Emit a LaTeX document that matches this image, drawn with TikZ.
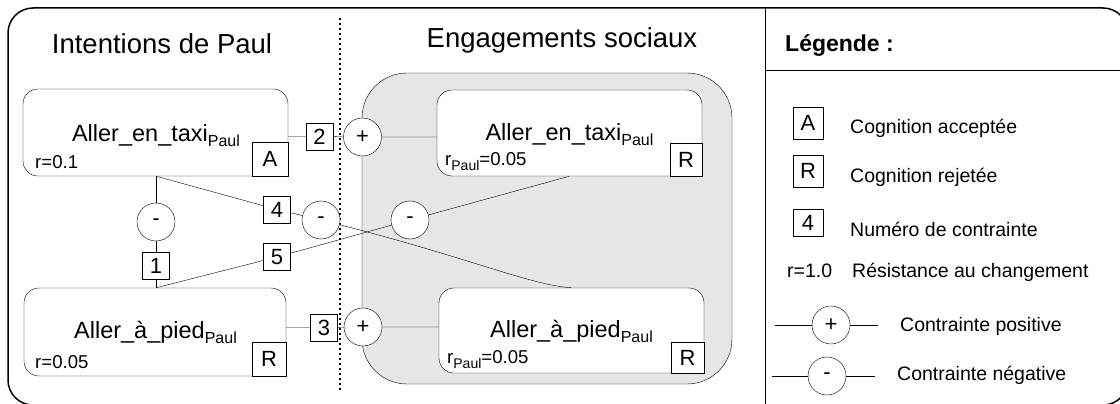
\documentclass[tikz,border=0pt]{standalone}
\usepackage{fontspec}
\setmainfont{Liberation Sans}
\usetikzlibrary{calc}
\pgfdeclarelayer{bg}
\pgfdeclarelayer{wires}
\pgfsetlayers{bg,wires,main}
\definecolor{panel}{HTML}{E6E6E6}
\newcommand\fsz[1]{\fontsize{#1}{#1}\selectfont}
\newcommand\subtxt[2][16]{\raisebox{-5pt}{\fsz{#1}#2}}

\begin{document}
\begin{tikzpicture}[x=1pt,y=-1pt,line width=1.2pt,
  cogn/.style 2 args={draw, fill=white, rounded corners=15pt, minimum width=#1, minimum height=#2, inner sep=0pt},
  cogtext/.style={font=\fsz{23.5}, inner sep=0pt, anchor=base},
  restxt/.style={font=\fsz{18.6}, inner sep=0pt, anchor=base west},
  verdict/.style 2 args={draw, fill=white, minimum width=#1, minimum height=#2, inner sep=0pt, font=\fsz{22}},
  numbox/.style={draw, fill=white, minimum width=27pt, minimum height=27pt, inner sep=0pt, font=\fsz{22}},
  sign/.style={circle, draw, fill=white, minimum size=38pt, inner sep=0pt, font=\fsz{22}},
  title/.style={font=\fsz{27.5}, inner sep=0pt, anchor=base},
  legtxt/.style={font=\fsz{19.5}, inner sep=0pt, anchor=base west},
]
\useasboundingbox (0,0) rectangle (1120,404);

% frame, separators and the social-commitments panel
\begin{pgfonlayer}{bg}
  \draw[line width=1.5pt, rounded corners=25pt] (8,8) rectangle (1128,405);
  \draw (765,8) -- (765,405);
  \draw (765,70) -- (1128,70);
  \draw[line width=1.6pt, dash pattern=on 1.6pt off 3.4pt] (340,18) -- (340,392);
  \draw[fill=panel, rounded corners=45pt] (362,73) rectangle (732,384);
\end{pgfonlayer}

% titles
\node[title] (tIntent) at (162,54) {Intentions de Paul};
\node[title] (tSocial) at (562,48) {Engagements sociaux};
\node[font=\fsz{23}\bfseries, inner sep=0pt, anchor=base west] (tLeg) at (785,52) {Légende :};

% Paul's intentions
\node[cogn={265pt}{87pt}] (taxiP) at (155.5,132.5) {};
\node[cogtext] (taxiPt) at (156,142) {Aller\_en\_taxi\subtxt{Paul}};
\node[restxt] (taxiPr) at (35,168) {r=0.1};
\node[verdict={36pt}{34pt}] (taxiPv) at (270,159) {A};

\node[cogn={262pt}{88pt}] (piedP) at (155,332) {};
\node[cogtext] (piedPt) at (155.5,338) {Aller\_à\_pied\subtxt{Paul}};
\node[restxt] (piedPr) at (35,368) {r=0.05};
\node[verdict={34pt}{34pt}] (piedPv) at (269,359) {R};

% social commitments
\node[cogn={265pt}{86pt}] (taxiS) at (569.5,133) {};
\node[cogtext] (taxiSt) at (569.5,140) {Aller\_en\_taxi\subtxt{Paul}};
\node[restxt] (taxiSr) at (445,165) {r\subtxt[14]{Paul}=0.05};
\node[verdict={32pt}{33pt}] (taxiSv) at (686,159.5) {R};

\node[cogn={265pt}{85pt}] (piedS) at (571.5,330.5) {};
\node[cogtext] (piedSt) at (571.5,337) {Aller\_à\_pied\subtxt{Paul}};
\node[restxt] (piedSr) at (447,363) {r\subtxt[14]{Paul}=0.05};
\node[verdict={33pt}{31pt}] (piedSv) at (687.5,357.5) {R};

% constraints
\node[sign] (m1) at (156,222) {-};
\node[sign] (m2) at (321,220) {-};
\node[sign] (m3) at (410,220) {-};
\node[sign] (p1) at (362.5,137) {+};
\node[sign] (p2) at (363,327) {+};

\node[numbox] (n1) at (156,265.5) {1};
\node[numbox] (n2) at (319.5,136.5) {2};
\node[numbox] (n3) at (324,327.5) {3};
\node[numbox] (n4) at (277,209.5) {4};
\node[numbox] (n5) at (277,257) {5};

% legend
\node[verdict={30pt}{32pt}, font=\fsz{22}] (kA) at (808,123) {A};
\node[legtxt] (kAt) at (850,133) {Cognition acceptée};
\node[verdict={30pt}{32pt}, font=\fsz{22}] (kR) at (808,171) {R};
\node[legtxt] (kRt) at (850,182) {Cognition rejetée};
\node[verdict={30pt}{27pt}, font=\fsz{22}] (kN) at (808,223) {4};
\node[legtxt] (kNt) at (850,236) {Numéro de contrainte};
\node[legtxt] (kr) at (787,277) {r=1.0};
\node[legtxt] (krt) at (852,277) {Résistance au changement};

\node[sign] (kP) at (831,325) {+};
\coordinate (kPa) at (775,325);
\coordinate (kPb) at (878,325);
\node[legtxt] (kPt) at (900,331) {Contrainte positive};
\node[sign] (kM) at (827,376) {-};
\coordinate (kMa) at (772,376);
\coordinate (kMb) at (875,376);
\node[legtxt] (kMt) at (897,380) {Contrainte négative};

% connectors
\begin{pgfonlayer}{wires}
  \draw (m1 |- taxiP.south) -- (m1) -- (n1) -- (n1 |- piedP.north);
  \draw (m1 |- taxiP.south) -- (n4) -- (m2)
        .. controls (470,258) and (530,285) .. (piedS.north);
  \draw (n1 |- piedP.north) -- (n5) -- (m3) -- (taxiS.south);
  \draw (n2 -| taxiP.east) -- (n2) -- (p1) -- (p1 -| taxiS.west);
  \draw (n3 -| piedP.east) -- (n3) -- (p2) -- (p2 -| piedS.west);
  \draw (kPa) -- (kP) -- (kPb);
  \draw (kMa) -- (kM) -- (kMb);
\end{pgfonlayer}
\end{tikzpicture}
\end{document}
